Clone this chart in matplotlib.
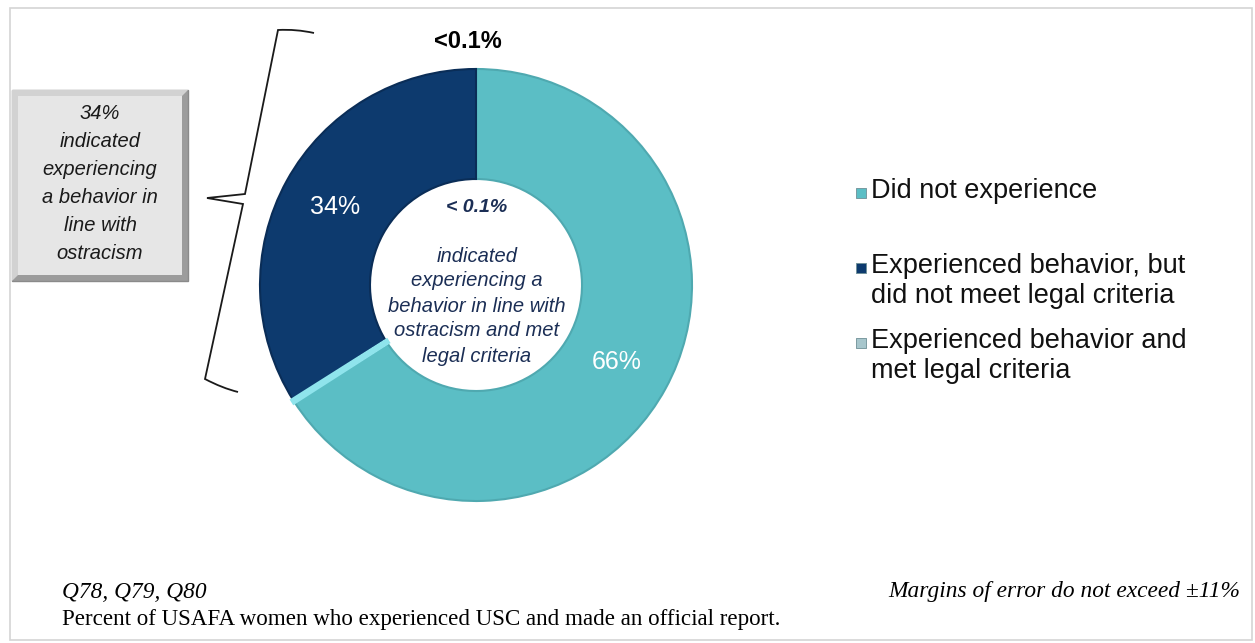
import matplotlib
matplotlib.use("Agg")
import matplotlib.pyplot as plt
from matplotlib.patches import Rectangle, Polygon
from matplotlib.path import Path
from matplotlib.patches import PathPatch

W, H = 1255, 643

# data
slice_names = ["Did not experience", "Experienced behavior and\nmet legal criteria",
               "Experienced behavior, but\ndid not meet legal criteria"]
slice_values = [66, 0.1, 34]
slice_colors = ["#5BBEC5", "#8FE4EC", "#0D3A6E"]
slice_edges = ["#4FA9B0", "#8FE4EC", "#0A2D57"]

legend_labels = ["Did not experience",
                 "Experienced behavior, but\ndid not meet legal criteria",
                 "Experienced behavior and\nmet legal criteria"]
legend_colors = ["#5BBEC5", "#0D3A6E", "#A7C6CC"]

box_text = "34%\nindicated\nexperiencing\na behavior in\nline with\nostracism"
top_text = "<0.1%"
hole_pct = "< 0.1%"
hole_text = "indicated\nexperiencing a\nbehavior in line with\nostracism and met\nlegal criteria"
note_q = "Q78, Q79, Q80"
note_desc = "Percent of USAFA women who experienced USC and made an official report."
note_moe = "Margins of error do not exceed \u00b111%"

sans = "Liberation Sans"
serif = "Liberation Serif"


def Y(y):
    return H - y


fig = plt.figure(figsize=(W / 100, H / 100), dpi=100)
ax = fig.add_axes([0, 0, 1, 1])

# donut
wedges, texts, autotexts = ax.pie(
    slice_values, colors=slice_colors, startangle=90, counterclock=False,
    radius=216, center=(476, Y(285)),
    wedgeprops=dict(width=110, linewidth=1.5),
    autopct=lambda p: f"{p:.0f}%" if p > 1 else "", pctdistance=0.745,
    textprops=dict(color="white", fontsize=18, family=sans))
for w, ec in zip(wedges, slice_edges):
    w.set_edgecolor(ec)
wedges[1].set_linewidth(4)
wedges[1].set_zorder(3)

ax.set_xlim(0, W)
ax.set_ylim(0, H)
ax.set_aspect("auto")
ax.axis("off")

# outer frame
ax.add_patch(Rectangle((10, Y(640)), 1242, 632, fill=False, edgecolor="#D4D4D4", lw=1.2))

# bevelled box on the left
bx0, bx1, by0, by1 = 12, 188, 90, 281
ax.add_patch(Rectangle((bx0, Y(by1)), bx1 - bx0, by1 - by0, facecolor="#9C9C9C", edgecolor="#8A8A8A", lw=1))
b = 6
ax.add_patch(Polygon([(bx0, Y(by0)), (bx1, Y(by0)), (bx1 - b, Y(by0 + b)), (bx0 + b, Y(by0 + b)),
                      (bx0 + b, Y(by1 - b)), (bx0, Y(by1))], closed=True, facecolor="#D2D2D2", lw=0))
ax.add_patch(Rectangle((bx0 + b, Y(by1 - b)), bx1 - bx0 - 2 * b, by1 - by0 - 2 * b,
                       facecolor="#E6E6E6", lw=0))
ax.text((bx0 + bx1) / 2, Y((by0 + by1) / 2 - 2), box_text, ha="center", va="center",
        fontsize=14.5, style="italic", family=sans, color="#1A1A1A", linespacing=1.6)

# brace
brace = [(314, 33), (296, 29), (278, 30), (245, 194), (207, 198), (243, 204), (205, 379), (222, 388), (238, 392)]
codes = [Path.MOVETO, Path.CURVE3, Path.CURVE3, Path.LINETO, Path.LINETO, Path.LINETO, Path.LINETO,
         Path.CURVE3, Path.CURVE3]
ax.add_patch(PathPatch(Path([(x, Y(y)) for x, y in brace], codes), fill=False, edgecolor="#1A1A1A", lw=1.3))

# labels around and inside the donut
ax.text(468, Y(42), top_text, ha="center", va="center", fontsize=17, fontweight="bold", family=sans, color="black")
ax.text(477, Y(207), hole_pct, ha="center", va="center", fontsize=14, fontweight="bold", style="italic",
        family=sans, color="#1B2E55")
ax.text(477, Y(306), hole_text, ha="center", va="center", fontsize=14.5, style="italic",
        family=sans, color="#1B2E55", linespacing=1.4)

# legend
leg_y = [193, 268, 343]
for lab, col, y in zip(legend_labels, legend_colors, leg_y):
    ax.scatter([861], [Y(y)], marker="s", s=60, color=col, edgecolors="#6E8F96", linewidths=0.6)
    ax.text(871, Y(y - 15), lab, ha="left", va="top", fontsize=19.5, family=sans, color="#111111",
            linespacing=1.2)

# footnotes
ax.text(62, Y(592), note_q, ha="left", va="center", fontsize=16.8, style="italic", family=serif, color="black")
ax.text(62, Y(619), note_desc, ha="left", va="center", fontsize=16.6, family=serif, color="black")
ax.text(1240, Y(592), note_moe, ha="right", va="center", fontsize=16.8, style="italic", family=serif, color="black")

fig.savefig("out.png", dpi=100)
